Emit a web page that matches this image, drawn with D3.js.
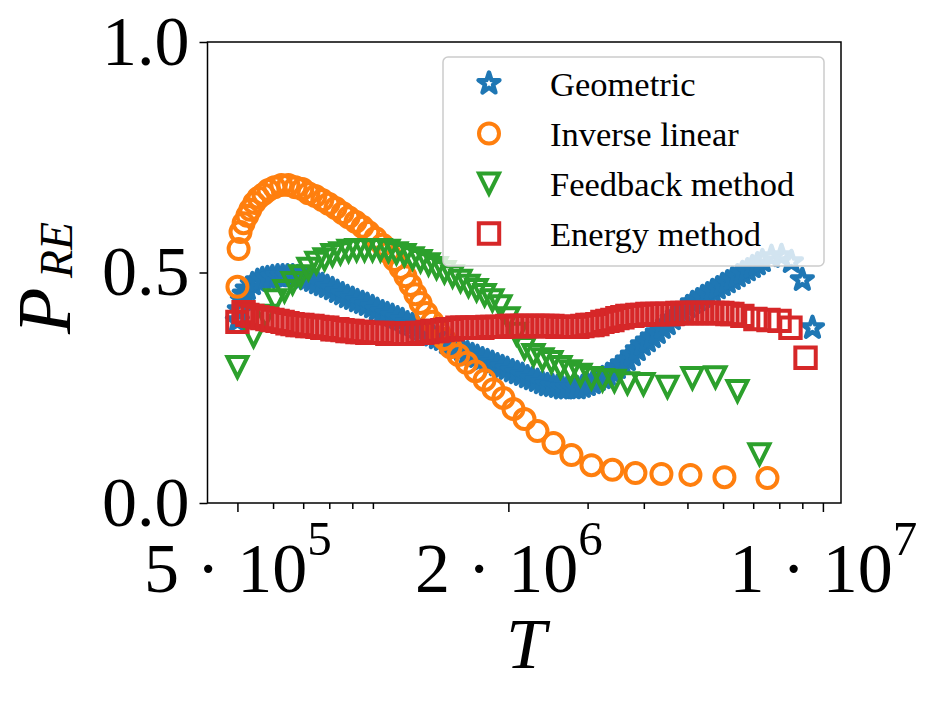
<!DOCTYPE html>
<html>
<head>
<meta charset="utf-8">
<script src="https://cdn.jsdelivr.net/npm/d3@7"></script>
<style>
  body { margin: 0; background: #fff; }
</style>
</head>
<body>
<div id="chart"></div>
<script>
// Values (T on a log axis, P_RE in [0,1])
var seriesNames = ["Geometric", "Inverse linear", "Feedback method", "Energy method"];

var geoT = [5.00e5, 5.05e5, 5.13e5, 5.18e5, 5.26e5, 5.40e5, 5.54e5, 5.68e5, 5.83e5, 5.98e5,
  6.14e5, 6.30e5, 6.46e5, 6.63e5, 6.80e5, 6.97e5, 7.15e5, 7.34e5, 7.53e5, 7.72e5,
  7.92e5, 8.13e5, 8.34e5, 8.56e5, 8.78e5, 9.01e5, 9.24e5, 9.48e5, 9.72e5, 9.98e5,
  1.023e6, 1.050e6, 1.077e6, 1.105e6, 1.134e6, 1.163e6, 1.193e6, 1.224e6, 1.256e6, 1.288e6,
  1.322e6, 1.356e6, 1.391e6, 1.427e6, 1.464e6, 1.502e6, 1.541e6, 1.581e6, 1.622e6, 1.664e6,
  1.707e6, 1.751e6, 1.797e6, 1.843e6, 1.891e6, 1.940e6, 1.990e6, 2.042e6, 2.095e6, 2.149e6,
  2.205e6, 2.262e6, 2.321e6, 2.381e6, 2.442e6, 2.506e6, 2.571e6, 2.637e6, 2.705e6, 2.776e6,
  2.847e6, 2.921e6, 2.997e6, 3.075e6, 3.154e6, 3.236e6, 3.320e6, 3.406e6, 3.494e6, 3.585e6,
  3.677e6, 3.773e6, 3.870e6, 3.971e6, 4.074e6, 4.179e6, 4.287e6, 4.398e6, 4.512e6, 4.629e6,
  4.749e6, 4.872e6, 4.998e6, 5.128e6, 5.261e6, 5.397e6, 5.537e6, 5.680e6, 5.827e6, 5.978e6,
  6.133e6, 6.292e6, 6.455e6, 6.622e6, 6.794e6, 6.970e6, 7.151e6, 7.336e6,
  7.686e6, 8.090e6, 8.510e6, 9.000e6, 9.480e6];
var geoP = [0.395, 0.419, 0.440, 0.453, 0.464, 0.475, 0.482, 0.486, 0.488, 0.490,
  0.492, 0.492, 0.492, 0.492, 0.490, 0.488, 0.486, 0.482, 0.477, 0.473,
  0.469, 0.464, 0.458, 0.453, 0.447, 0.443, 0.438, 0.434, 0.430, 0.425,
  0.419, 0.414, 0.410, 0.406, 0.401, 0.397, 0.390, 0.386, 0.380, 0.375,
  0.369, 0.364, 0.358, 0.354, 0.347, 0.343, 0.336, 0.332, 0.325, 0.321,
  0.317, 0.312, 0.308, 0.304, 0.299, 0.295, 0.291, 0.286, 0.282, 0.278,
  0.273, 0.269, 0.265, 0.260, 0.256, 0.254, 0.252, 0.249, 0.249, 0.249,
  0.249, 0.252, 0.256, 0.260, 0.267, 0.271, 0.278, 0.284, 0.293, 0.302,
  0.310, 0.321, 0.332, 0.343, 0.351, 0.360, 0.369, 0.380, 0.388, 0.399,
  0.408, 0.416, 0.425, 0.434, 0.440, 0.447, 0.453, 0.460, 0.466, 0.473,
  0.479, 0.486, 0.492, 0.499, 0.505, 0.512, 0.518, 0.525,
  0.534, 0.536, 0.523, 0.484, 0.380];

var invT = [5.00e5, 5.03e5, 5.08e5, 5.16e5, 5.26e5, 5.34e5, 5.45e5, 5.57e5, 5.71e5, 5.86e5,
  6.04e5, 6.26e5, 6.49e5, 6.73e5, 6.97e5, 7.19e5, 7.45e5, 7.72e5, 7.97e5, 8.26e5,
  8.56e5, 8.83e5, 9.15e5, 9.48e5, 9.77e5, 1.013e6, 1.050e6, 1.083e6, 1.117e6, 1.152e6,
  1.181e6, 1.212e6, 1.243e6, 1.276e6, 1.315e6, 1.356e6, 1.399e6, 1.442e6, 1.488e6, 1.549e6,
  1.615e6, 1.690e6, 1.771e6, 1.853e6, 1.950e6, 2.053e6, 2.172e6, 2.321e6, 2.519e6, 2.762e6,
  3.060e6, 3.406e6, 3.832e6, 4.377e6, 5.077e6, 6.042e6, 7.530e6];
var invP = [0.469, 0.551, 0.588, 0.607, 0.623, 0.636, 0.651, 0.662, 0.670, 0.679,
  0.685, 0.690, 0.690, 0.685, 0.681, 0.672, 0.666, 0.657, 0.649, 0.640,
  0.629, 0.620, 0.610, 0.599, 0.588, 0.575, 0.560, 0.544, 0.527, 0.510,
  0.492, 0.473, 0.453, 0.434, 0.412, 0.393, 0.373, 0.356, 0.338, 0.321,
  0.304, 0.286, 0.267, 0.247, 0.228, 0.204, 0.182, 0.156, 0.130, 0.104,
  0.082, 0.072, 0.065, 0.063, 0.061, 0.056, 0.054];

var fbT = [5.00e5, 5.43e5, 5.77e5, 6.07e5, 6.36e5, 6.63e5, 6.90e5, 7.19e5, 7.49e5, 7.81e5,
  8.13e5, 8.47e5, 8.83e5, 9.20e5, 9.58e5, 9.98e5, 1.039e6, 1.083e6, 1.128e6, 1.175e6,
  1.225e6, 1.276e6, 1.329e6, 1.385e6, 1.442e6, 1.503e6, 1.566e6, 1.631e6, 1.700e6, 1.771e6,
  1.843e6, 1.921e6, 2.001e6, 2.084e6, 2.172e6, 2.274e6, 2.381e6, 2.493e6, 2.611e6, 2.748e6,
  2.892e6, 3.060e6, 3.237e6, 3.441e6, 3.678e6, 3.992e6, 4.514e6, 5.129e6, 5.771e6, 6.458e6,
  7.227e6];
var fbP = [0.295, 0.362, 0.406, 0.440, 0.460, 0.477, 0.492, 0.508, 0.521, 0.529,
  0.538, 0.542, 0.547, 0.549, 0.549, 0.549, 0.549, 0.547, 0.542, 0.538,
  0.531, 0.525, 0.518, 0.510, 0.501, 0.492, 0.482, 0.471, 0.462, 0.451,
  0.440, 0.427, 0.401, 0.367, 0.336, 0.321, 0.312, 0.306, 0.295, 0.286,
  0.278, 0.271, 0.267, 0.265, 0.260, 0.258, 0.252, 0.271, 0.273, 0.243,
  0.106];

var enT = [5.00e5, 5.16e5, 5.26e5, 5.40e5, 5.54e5, 5.68e5, 5.83e5, 5.98e5,
  6.14e5, 6.30e5, 6.46e5, 6.63e5, 6.80e5, 6.97e5, 7.15e5, 7.34e5, 7.53e5, 7.72e5,
  7.92e5, 8.13e5, 8.34e5, 8.56e5, 8.78e5, 9.01e5, 9.24e5, 9.48e5, 9.72e5, 9.98e5,
  1.023e6, 1.050e6, 1.077e6, 1.105e6, 1.134e6, 1.163e6, 1.193e6, 1.224e6, 1.256e6, 1.288e6,
  1.322e6, 1.356e6, 1.391e6, 1.427e6, 1.464e6, 1.502e6, 1.541e6, 1.581e6, 1.622e6, 1.664e6,
  1.707e6, 1.751e6, 1.797e6, 1.843e6, 1.891e6, 1.940e6, 1.990e6, 2.042e6, 2.095e6, 2.149e6,
  2.205e6, 2.262e6, 2.321e6, 2.381e6, 2.442e6, 2.506e6, 2.571e6, 2.637e6, 2.705e6, 2.776e6,
  2.847e6, 2.921e6, 2.997e6, 3.075e6, 3.154e6, 3.236e6, 3.320e6, 3.406e6, 3.494e6, 3.585e6,
  3.677e6, 3.773e6, 3.870e6, 3.971e6, 4.074e6, 4.179e6, 4.287e6, 4.398e6, 4.512e6, 4.629e6,
  4.749e6, 4.872e6, 4.998e6, 5.128e6, 5.261e6, 5.397e6, 5.537e6, 5.680e6, 5.827e6, 5.978e6,
  6.133e6, 6.292e6,
  6.622e6, 7.08e6, 7.57e6, 8.01e6, 8.47e6, 9.15e6];
var enP = [0.393, 0.414, 0.408, 0.406, 0.403, 0.401, 0.399, 0.397,
  0.395, 0.393, 0.390, 0.388, 0.386, 0.386, 0.384, 0.384, 0.382, 0.380,
  0.380, 0.377, 0.377, 0.375, 0.373, 0.373, 0.371, 0.371, 0.369, 0.369,
  0.369, 0.369, 0.367, 0.367, 0.367, 0.367, 0.367, 0.367, 0.369, 0.369,
  0.371, 0.373, 0.373, 0.375, 0.377, 0.377, 0.380, 0.380, 0.380, 0.380,
  0.380, 0.380, 0.382, 0.382, 0.382, 0.382, 0.384, 0.384, 0.384, 0.384,
  0.384, 0.384, 0.384, 0.384, 0.384, 0.384, 0.382, 0.382, 0.382, 0.382,
  0.382, 0.384, 0.386, 0.386, 0.388, 0.393, 0.395, 0.397, 0.401, 0.403,
  0.406, 0.406, 0.408, 0.408, 0.410, 0.410, 0.410, 0.410, 0.410, 0.410,
  0.412, 0.412, 0.412, 0.412, 0.412, 0.412, 0.412, 0.412, 0.412, 0.412,
  0.410, 0.410,
  0.406, 0.399, 0.397, 0.395, 0.380, 0.315];

// Axis ticks
var xMajor = [5e5, 2e6, 1e7];
var xMajorMant = ["5", "2", "1"];
var xMajorExp = ["5", "6", "7"];
var xMinor = [6e5, 7e5, 8e5, 9e5, 1e6, 3e6, 4e6, 5e6, 6e6, 7e6, 8e6, 9e6];
var yTicks = [0, 0.5, 1.0];

var colors = ["#1f77b4", "#ff7f0e", "#2ca02c", "#d62728"];
var shapes = ["star", "circle", "tri", "square"];
var allT = [geoT, invT, fbT, enT];
var allP = [geoP, invP, fbP, enP];

var width = 934, height = 705;
var serif = "'Liberation Serif', 'DejaVu Serif', serif";

var svg = d3.select("#chart")
    .append("svg")
    .attr("width", width)
    .attr("height", height);

var x = d3.scaleLog().domain([4.29e5, 1.097e7]).range([207.5, 841]);
var y = d3.scaleLinear().domain([0, 1]).range([503, 42]);

// Marker outlines (matplotlib-like, hollow with thick edge)
function starPath(R) {
    var r = R * 0.381966, pts = [];
    for (var i = 0; i < 10; i++) {
        var a = -Math.PI / 2 + i * Math.PI / 5;
        var rad = (i % 2 === 0) ? R : r;
        pts.push([rad * Math.cos(a), rad * Math.sin(a)]);
    }
    return "M" + pts.map(function (p) { return p[0].toFixed(2) + "," + p[1].toFixed(2); }).join("L") + "Z";
}
var circ = d3.path();
circ.arc(0, 0, 10, 0, 2 * Math.PI);
var markerPath = {
    star: starPath(11),
    circle: circ.toString() + "Z",
    tri: "M0,10L-10,-10L10,-10Z",
    square: "M-10.2,-10.2H10.2V10.2H-10.2Z"
};

function drawMarker(sel, shape, color) {
    sel.attr("d", markerPath[shape])
        .attr("fill", "none")
        .attr("stroke", color)
        .attr("stroke-width", shape === "star" ? 4.4 : 4)
        .attr("stroke-linejoin", shape === "star" ? "round" : "miter");
}

// Series
for (var s = 0; s < 4; s++) {
    var pts = d3.zip(allT[s], allP[s]);
    svg.append("g")
        .attr("class", "series")
        .selectAll("path")
        .data(pts)
        .enter()
        .append("path")
        .attr("transform", function (d) {
            return "translate(" + x(d[0]) + "," + y(d[1]) + ")";
        })
        .call(drawMarker, shapes[s], colors[s]);
}

// X axis - minor ticks
svg.append("g")
    .attr("transform", "translate(0,503)")
    .call(d3.axisBottom(x).tickValues(xMinor).tickSize(6).tickFormat(""))
    .call(function (g) { g.select(".domain").remove(); })
    .selectAll("line").attr("stroke-width", 1.5);

// X axis - major ticks with mathtext-like labels
var xAxisG = svg.append("g")
    .attr("transform", "translate(0,503)")
    .call(d3.axisBottom(x).tickValues(xMajor).tickSize(9).tickFormat(""))
    .call(function (g) { g.select(".domain").remove(); });
xAxisG.selectAll("line").attr("stroke-width", 1.5);
xAxisG.selectAll(".tick text").remove();
xAxisG.selectAll(".tick").each(function (d, i) {
    var t = d3.select(this).append("text")
        .attr("y", 89)
        .attr("text-anchor", "middle")
        .attr("fill", "black")
        .style("font-family", serif)
        .style("font-size", "70px");
    t.append("tspan").text(xMajorMant[i] + " \u00b7 10");
    t.append("tspan").attr("dy", -37).style("font-size", "49px").text(xMajorExp[i]);
});

// Y axis
var yAxisG = svg.append("g")
    .attr("transform", "translate(207.5,0)")
    .call(d3.axisLeft(y).tickValues(yTicks).tickSize(8).tickPadding(10).tickFormat(d3.format(".1f")))
    .call(function (g) { g.select(".domain").remove(); });
yAxisG.selectAll("line").attr("stroke-width", 1.5);
yAxisG.selectAll("text")
    .attr("fill", "black")
    .style("font-family", serif)
    .style("font-size", "70px");

// Frame
svg.append("rect")
    .attr("x", 207.5).attr("y", 42)
    .attr("width", 633.5).attr("height", 461)
    .attr("fill", "none")
    .attr("stroke", "black")
    .attr("stroke-width", 1.5);

// Axis titles
svg.append("text")
    .attr("x", 526).attr("y", 668)
    .attr("text-anchor", "middle")
    .style("font-family", serif)
    .style("font-style", "italic")
    .style("font-size", "72px")
    .text("T");

var yLab = svg.append("g").attr("transform", "translate(70,272) rotate(-90)");
yLab.append("text")
    .attr("x", -62).attr("y", 0)
    .style("font-family", serif)
    .style("font-style", "italic")
    .style("font-size", "76px")
    .text("P");
yLab.append("text")
    .attr("x", -6).attr("y", 2)
    .style("font-family", serif)
    .style("font-style", "italic")
    .style("font-size", "46px")
    .text("RE");

// Legend
var legend = svg.append("g");
legend.append("rect")
    .attr("x", 443).attr("y", 57)
    .attr("width", 381).attr("height", 209)
    .attr("rx", 5)
    .attr("fill", "white")
    .attr("fill-opacity", 0.8)
    .attr("stroke", "#cccccc")
    .attr("stroke-width", 1.5);

var rows = legend.selectAll("g.row")
    .data(seriesNames)
    .enter()
    .append("g")
    .attr("class", "row")
    .attr("transform", function (d, i) { return "translate(489," + (83.5 + i * 50) + ")"; });
rows.append("path").each(function (d, i) {
    d3.select(this).call(drawMarker, shapes[i], colors[i]);
});
rows.append("text")
    .attr("x", 61)
    .attr("y", 12)
    .attr("fill", "black")
    .style("font-family", serif)
    .style("font-size", "34.5px")
    .text(function (d) { return d; });
</script>
</body>
</html>
